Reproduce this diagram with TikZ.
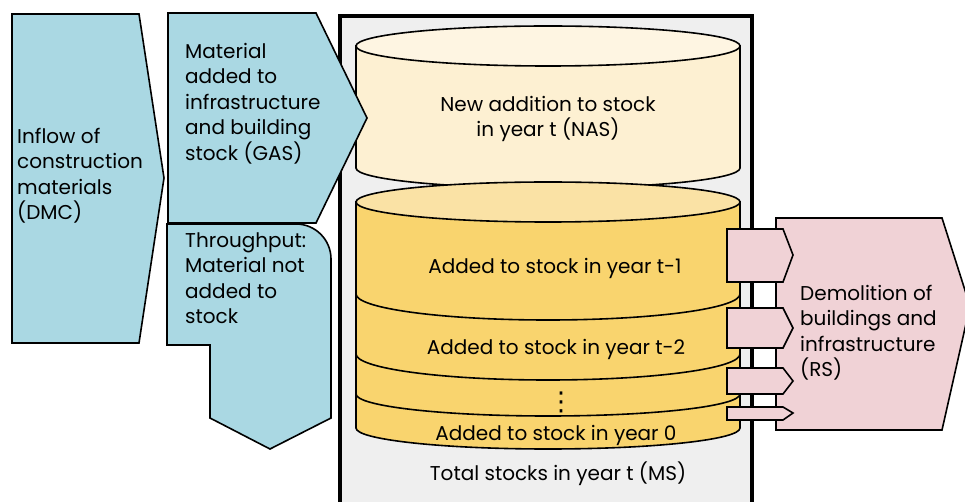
\documentclass[tikz,border=0pt]{standalone}
\usepackage{fontspec}
\setmainfont{Poppins}
\newfontfamily\symbolfont{DejaVu Sans}
\definecolor{flowblue}{RGB}{170,216,227}
\definecolor{flowpink}{RGB}{240,210,214}
\definecolor{framegray}{RGB}{239,239,239}
\definecolor{newbody}{RGB}{253,240,210}
\definecolor{newtop}{RGB}{254,245,226}
\definecolor{oldbody}{RGB}{249,212,110}
\definecolor{oldtop}{RGB}{250,226,165}
\begin{document}
\begin{tikzpicture}[x=1pt,y=-1pt,line join=miter,
  shapeline/.style={draw=black,line width=1.6pt},
  label/.style={inner sep=0pt,font=\fontsize{20}{25.5}\selectfont,align=left},
  clabel/.style={inner sep=0pt,font=\fontsize{20}{25.5}\selectfont,align=center}]
\useasboundingbox (0,0) rectangle (965,502);
\fill[white] (0,0) rectangle (965,502);

% frame holding the total stock
\fill[framegray] (340,16) rectangle (752,502);
\draw[line width=3.6pt] (340,504) -- (340,16) -- (752,16) -- (752,504);

% inflow of construction materials
\draw[shapeline,fill=flowblue] (12,14) -- (139,14) -- (164,178) -- (139,343) -- (12,343) -- cycle;
\node[label,anchor=north west] (dmc) at (17,128) {Inflow of\\construction\\materials\\(DMC)};

% throughput
\draw[shapeline,fill=flowblue] (167,224) -- (296,224) arc[start angle=270,end angle=360,radius=35]
  -- (331,418) -- (270,449) -- (210,418) -- (210,345) -- (167,345) -- cycle;
\node[label,anchor=north west] (thr) at (185,232) {Throughput:\\Material not\\added to\\stock};

% new addition cylinder
\draw[shapeline,fill=newbody] (356,46) -- (356,168) arc[start angle=180,end angle=0,x radius=192,y radius=20] -- (740,46) -- cycle;
\draw[shapeline,fill=newtop] (548,46) ellipse[x radius=192,y radius=20];
\node[clabel,anchor=north] (nas) at (548,96) {New addition to stock\\in year t (NAS)};

% stacked older stock cylinder
\draw[shapeline,fill=oldbody] (356,202) -- (356,428) arc[start angle=180,end angle=0,x radius=192,y radius=21] -- (740,202) -- cycle;
\draw[shapeline,fill=oldtop] (548,202) ellipse[x radius=192,y radius=20];
\draw[shapeline] (356,294) arc[start angle=180,end angle=0,x radius=192,y radius=26];
\draw[shapeline] (356,354) arc[start angle=180,end angle=0,x radius=192,y radius=26];
\draw[shapeline] (356,394) arc[start angle=180,end angle=0,x radius=192,y radius=22];
\node[clabel,anchor=base] (y1) at (555,273) {Added to stock in year t-1};
\node[clabel,anchor=base] (y2) at (556,354) {Added to stock in year t-2};
\node[inner sep=0pt] (dots) at (561,402) {\symbolfont\fontsize{26}{26}\selectfont ⋮};
\node[clabel,anchor=base] (y0) at (556,440) {Added to stock in year 0};
\node[clabel,anchor=base] (ms) at (558,480) {Total stocks in year t (MS)};

% material added to stock
\draw[shapeline,fill=flowblue] (168,13) -- (316,13) -- (367,118) -- (316,223) -- (168,223) -- cycle;
\node[label,anchor=north west] (gas) at (185,43) {Material\\added to\\infrastructure\\and building\\stock (GAS)};

% demolition
\draw[shapeline,fill=flowpink] (776,218) -- (942,218) -- (970,306) -- (942,430) -- (776,430) -- cycle;
\node[label,anchor=north west] (rs) at (800,285) {Demolition of\\buildings and\\infrastructure\\(RS)};
\draw[shapeline,fill=flowpink] (727,229) -- (783,229) -- (793,255) -- (783,282) -- (727,282) -- cycle;
\draw[shapeline,fill=flowpink] (727,308) -- (783,308) -- (793,328) -- (783,348) -- (727,348) -- cycle;
\draw[shapeline,fill=flowpink] (727,368) -- (783,368) -- (793,381) -- (783,394) -- (727,394) -- cycle;
\draw[shapeline,fill=flowpink] (727,407) -- (783,407) -- (793,413) -- (783,420) -- (727,420) -- cycle;
\end{tikzpicture}
\end{document}
